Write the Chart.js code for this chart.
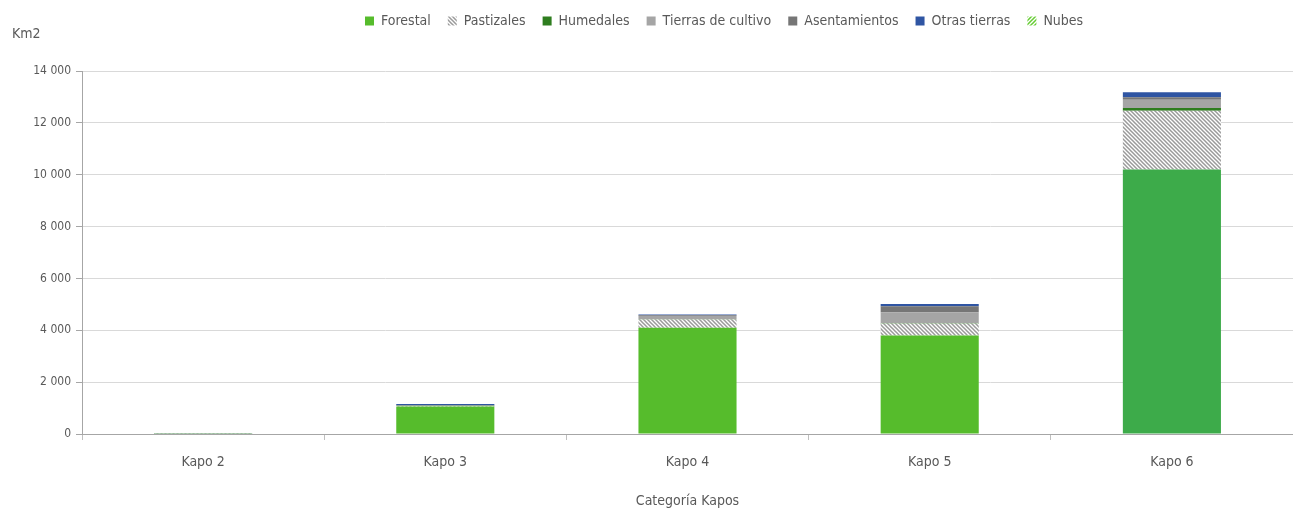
<!DOCTYPE html>
<html>
<head>
<meta charset="utf-8">
<script src="https://cdn.jsdelivr.net/npm/chart.js@4/dist/chart.umd.min.js"></script>
<style>
    html, body { margin: 0; padding: 0; background: #fff; }
    #wrap { position: relative; width: 1293px; height: 510px; }
    #unit { position: absolute; left: 12px; top: 25px; font: 14px 'DejaVu Sans Condensed', sans-serif; color: #595959; }
</style>
</head>
<body>
<div id="wrap">
    <canvas id="chart" width="1293" height="510"></canvas>
    <div id="unit">Km2</div>
</div>
<script>
const categories = ['Kapo 2', 'Kapo 3', 'Kapo 4', 'Kapo 5', 'Kapo 6']
const forestal = [10, 1060, 4100, 3800, 10200]
const pastizales = [5, 20, 320, 460, 2270]
const humedales = [0, 5, 10, 20, 100]
const cultivo = [10, 15, 120, 420, 320]
const asentamientos = [5, 10, 30, 230, 100]
const otrasTierras = [10, 45, 30, 80, 190]
const nubes = [0, 0, 0, 0, 0]
const yTicks = [0, 2000, 4000, 6000, 8000, 10000, 12000, 14000]

const FONT = "'DejaVu Sans Condensed', sans-serif"
const TEXT = '#595959'

function stripes(bg, fg, dir) {
    const c = document.createElement('canvas')
    c.width = 4
    c.height = 4
    const g = c.getContext('2d')
    g.fillStyle = bg
    g.fillRect(0, 0, 4, 4)
    g.strokeStyle = fg
    g.lineWidth = 1.5
    g.beginPath()
    if (dir > 0) {
        g.moveTo(-1, -1); g.lineTo(5, 5)
        g.moveTo(-1, 3); g.lineTo(1, 5)
        g.moveTo(3, -1); g.lineTo(5, 1)
    } else {
        g.moveTo(-1, 5); g.lineTo(5, -1)
        g.moveTo(-1, 1); g.lineTo(1, -1)
        g.moveTo(3, 5); g.lineTo(5, 3)
    }
    g.stroke()
    return g.createPattern(c, 'repeat')
}

const ctx = document.getElementById('chart').getContext('2d')
const hatch = stripes('#ffffff', '#9a9a9a', 1)
const cloud = stripes('#ffffff', '#66cc33', -1)

// push the plot area down below the legend, and start the legend row at x=365
const fitLegend = {
    id: 'fitLegend',
    beforeInit(chart) {
        const orig = chart.legend.fit
        chart.legend.fit = function () {
            orig.bind(chart.legend)()
            this.height += 33
            if (this.lineWidths && this.lineWidths.length) this.lineWidths[0] = this.right - 365
        }
    }
}

new Chart(ctx, {
    type: 'bar',
    data: {
        labels: categories,
        datasets: [
            { label: 'Forestal', data: forestal, backgroundColor: ['#56bc2c', '#56bc2c', '#56bc2c', '#56bc2c', '#3dab4a'] },
            { label: 'Pastizales', data: pastizales, backgroundColor: hatch },
            { label: 'Humedales', data: humedales, backgroundColor: '#2e7d1f' },
            { label: 'Tierras de cultivo', data: cultivo, backgroundColor: '#a5a5a5' },
            { label: 'Asentamientos', data: asentamientos, backgroundColor: '#767676' },
            { label: 'Otras tierras', data: otrasTierras, backgroundColor: '#2f55a3' },
            { label: 'Nubes', data: nubes, backgroundColor: cloud }
        ]
    },
    options: {
        responsive: false,
        animation: false,
        categoryPercentage: 1,
        barPercentage: 0.405,
        layout: { padding: { left: 0, right: 0, top: -3, bottom: 0 } },
        plugins: {
            legend: {
                position: 'top',
                align: 'end',
                labels: {
                    boxWidth: 9,
                    boxHeight: 9,
                    padding: 17,
                    color: TEXT,
                    font: { family: FONT, size: 14 },
                    generateLabels(chart) {
                        const items = Chart.defaults.plugins.legend.labels.generateLabels(chart)
                        items.forEach(i => {
                            if (Array.isArray(i.fillStyle)) i.fillStyle = '#56bc2c'
                            i.lineWidth = 0
                            i.strokeStyle = 'rgba(0,0,0,0)'
                        })
                        return items
                    }
                }
            },
            tooltip: { enabled: false }
        },
        scales: {
            x: {
                stacked: true,
                grid: { display: true, offset: true, drawOnChartArea: false, tickLength: 6, color: '#bfbfbf' },
                border: { color: '#a6a6a6', width: 1 },
                ticks: { color: TEXT, font: { family: FONT, size: 14 }, padding: 14 },
                title: { display: true, text: 'Categoría Kapos', color: TEXT, font: { family: FONT, size: 14 }, padding: { top: 14, bottom: 0 } },
                afterFit(scale) { scale.height = 76 }
            },
            y: {
                stacked: true,
                min: 0,
                max: 14000,
                afterBuildTicks(scale) { scale.ticks = yTicks.map(v => ({ value: v })) },
                grid: { color: '#d9d9d9', tickLength: 6, tickColor: '#a6a6a6' },
                border: { color: '#a6a6a6', width: 1 },
                ticks: {
                    color: TEXT,
                    font: { family: FONT, size: 12 },
                    padding: 5,
                    callback: v => v.toLocaleString('en-US').replace(/,/g, ' ')
                },
                afterFit(scale) { scale.width = 82 }
            }
        }
    },
    plugins: [fitLegend]
})
</script>
</body>
</html>
